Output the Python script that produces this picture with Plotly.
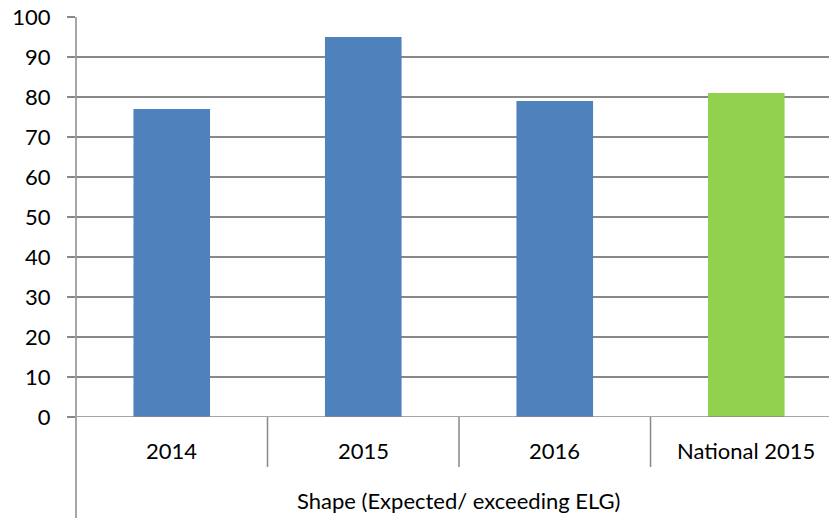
import plotly.graph_objects as go

categories = ["2014", "2015", "2016", "National 2015"]
values = [77, 95, 79, 81]
bar_colors = ["#4F81BD", "#4F81BD", "#4F81BD", "#92D050"]
group_label = "Shape (Expected/ exceeding ELG)"
y_ticks = list(range(0, 101, 10))

font_family = "Lato, 'Open Sans', sans-serif"
grid_color = "#888888"
x_pos = list(range(len(categories)))

trace = go.Bar(
    x=x_pos,
    y=values,
    marker={"color": bar_colors, "line": {"width": 0}},
    width=0.4,
    hoverinfo="y",
)

layout = go.Layout(
    width=829,
    height=518,
    margin={"l": 76, "r": 0, "t": 17, "b": 101},
    paper_bgcolor="white",
    plot_bgcolor="white",
    showlegend=False,
    font={"family": font_family, "size": 22, "color": "#000000"},
    xaxis={
        "range": [-0.5, 3.432],
        "showticklabels": False,
        "showgrid": False,
        "zeroline": False,
        "showline": False,
        "automargin": False,
        "fixedrange": True,
    },
    yaxis={
        "range": [0, 100],
        "tickvals": y_ticks,
        "showgrid": True,
        "gridcolor": grid_color,
        "gridwidth": 1.5,
        "zeroline": False,
        "showline": False,
        "ticks": "outside",
        "ticklen": 8,
        "tickcolor": grid_color,
        "tickwidth": 1.5,
        "ticklabelstandoff": 12,
        "ticklabeloverflow": "allow",
        "automargin": False,
        "tickfont": {"size": 22},
        "fixedrange": True,
    },
)

fig = go.Figure(data=[trace], layout=layout)

# x axis base line at 0
fig.add_shape(type="line", xref="paper", yref="y", x0=0, x1=1, y0=0, y1=0,
              line={"color": grid_color, "width": 1.5})
# y axis line, extended down through the category area
fig.add_shape(type="line", xref="paper", yref="paper", x0=0, x1=0, y0=1, y1=-0.26,
              line={"color": grid_color, "width": 1.5})
# dividers between categories
for i in range(len(categories)):
    fig.add_shape(type="line", xref="x", yref="paper", x0=i + 0.5, x1=i + 0.5,
                  y0=0, y1=-0.125, line={"color": grid_color, "width": 1.5})

for i, cat in enumerate(categories):
    fig.add_annotation(x=i, y=-0.0825, xref="x", yref="paper", text=cat,
                       showarrow=False, font={"size": 22}, yanchor="middle")

fig.add_annotation(x=1.5, y=-0.2075, xref="x", yref="paper", text=group_label,
                   showarrow=False, font={"size": 22}, yanchor="middle")

# drop the default body margin so the figure fills the window exactly
fig.write_html("out.html", config={"displayModeBar": False},
               post_script="document.body.style.margin = '0';")
